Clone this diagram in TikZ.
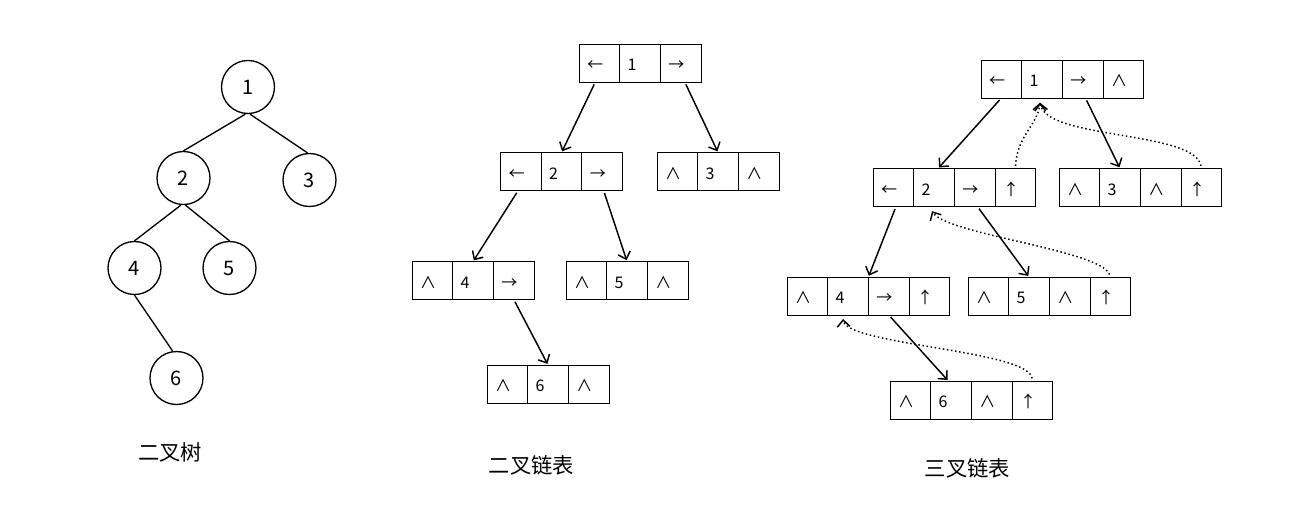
\documentclass[tikz,border=0pt]{standalone}
\usepackage{fontspec}
\newfontfamily\cjk{Noto Sans CJK SC}
\usetikzlibrary{arrows.meta,calc}
\tikzset{
  cell/.style={draw, line width=0.7pt, outer sep=0pt, minimum height=28.5pt,
    minimum width=30.525pt, text width=18.525pt, inner xsep=6pt, inner ysep=0pt,
    align=left, text height=11.8pt, text depth=0pt,
    font=\cjk\fontsize{12}{14}\selectfont},
  tnode/.style={draw, circle, line width=1pt, minimum size=39.75pt, inner sep=0pt,
    font=\cjk\fontsize{15}{18}\selectfont},
  treeedge/.style={line width=1pt},
  tip/.style={-{Straight Barb[length=5pt,width=9.5pt]}},
  ptr/.style={line width=1.1pt, tip},
  parptr/.style={line width=1.1pt, dotted, shorten >=1pt,
    postaction={draw, tip, dash pattern=on 0pt off 2000pt, line cap=butt, shorten >=0pt}},
  caption/.style={font=\cjk\fontsize{16}{19}\selectfont},
}
\newcommand\rec[4]{%
  \foreach \t [count=\i] in {#4} {
    \node[cell, anchor=west] (#1\i) at ({#2+(\i-1)*40.7}, #3) {\t};
  }%
}
\begin{document}
\begin{tikzpicture}[x=0.75pt, y=-0.75pt]
\useasboundingbox (0,0) rectangle (1314,525);

% binary tree
\node[tnode] (n1) at (248,87) {1};
\node[tnode] (n2) at (183.5,178) {2};
\node[tnode] (n3) at (309.5,180) {3};
\node[tnode] (n4) at (134.5,268) {4};
\node[tnode] (n5) at (229.5,268) {5};
\node[tnode] (n6) at (176.5,378) {6};
\draw[treeedge] ([xshift=-2pt]n1.south) -- (n2.north);
\draw[treeedge] ([xshift=1.5pt]n1.south) -- ([xshift=-1.5pt]n3.north);
\draw[treeedge] ([xshift=-2pt]n2.south) -- (n4.north);
\draw[treeedge] ([xshift=1.5pt]n2.south) -- (n5.north);
\draw[treeedge] (n4.south) -- ([xshift=-3pt]n6.north);
\node[caption] (l1) at (170,452) {二叉树};

% binary linked list
\rec{b1}{579}{63}{←,1,→}
\rec{b2}{500.5}{171.5}{←,2,→}
\rec{b3}{657}{171.5}{∧,3,∧}
\rec{b4}{412}{280.5}{∧,4,→}
\rec{b5}{566}{280.5}{∧,5,∧}
\rec{b6}{487}{384}{∧,6,∧}
\draw[ptr, shorten <=2pt, shorten >=1pt] ([xshift=-3pt]b11.south) -- (b22.north);
\draw[ptr, shorten <=2pt, shorten >=1pt] ([xshift=3pt]b13.south) -- (b32.north);
\draw[ptr, shorten <=2pt, shorten >=1pt] ([xshift=-2pt]b21.south) -- (b42.north);
\draw[ptr, shorten <=2pt, shorten >=1pt] ([xshift=1pt]b23.south) -- (b52.north);
\draw[ptr, shorten <=2pt, shorten >=1pt] (b43.south) -- (b62.north);
\node[caption] (l2) at (531.5,465) {二叉链表};

% trinary linked list
\rec{t1}{981}{79}{←,1,→,∧}
\rec{t2}{873}{187.5}{←,2,→,↑}
\rec{t3}{1059}{187.5}{∧,3,∧,↑}
\rec{t4}{787}{296}{∧,4,→,↑}
\rec{t5}{968}{296}{∧,5,∧,↑}
\rec{t6}{890}{400}{∧,6,∧,↑}
\draw[ptr, shorten <=2pt, shorten >=1pt] (t11.south) -- ([xshift=3pt]t22.north);
\draw[ptr, shorten <=2pt, shorten >=1pt] ([xshift=2pt]t13.south) -- (t32.north);
\draw[ptr, shorten <=2pt, shorten >=1pt] ([xshift=2pt]t21.south) -- (t42.north east);
\draw[ptr, shorten <=2pt, shorten >=1pt] ([xshift=2pt]t23.south) -- (t52.north);
\draw[ptr, shorten <=2pt, shorten >=1pt] (t43.south) -- ([xshift=-2pt]t62.north);

\draw[parptr, shorten <=2pt] (t24.north) .. controls +(1.5,-33) and +(-2,22) .. ([xshift=-1.5pt,yshift=-3.5pt]t12.south);
\draw[parptr, shorten <=2pt] (t34.north) .. controls +(-6.6,-38) and +(5,37) .. ([xshift=-1.5pt,yshift=-3.5pt]t12.south);
\draw[parptr, shorten <=2pt] (t54.north) .. controls +(-10,-27) and +(13,23) .. ([xshift=-1.5pt,yshift=-3.5pt]t22.south);
\draw[parptr, shorten <=2pt] (t64.north) .. controls +(-4,-31) and +(2,26) .. ([xshift=-3.75pt,yshift=-3pt]t42.south);
\node[caption] (l3) at (967.5,468) {三叉链表};
\end{tikzpicture}
\end{document}
